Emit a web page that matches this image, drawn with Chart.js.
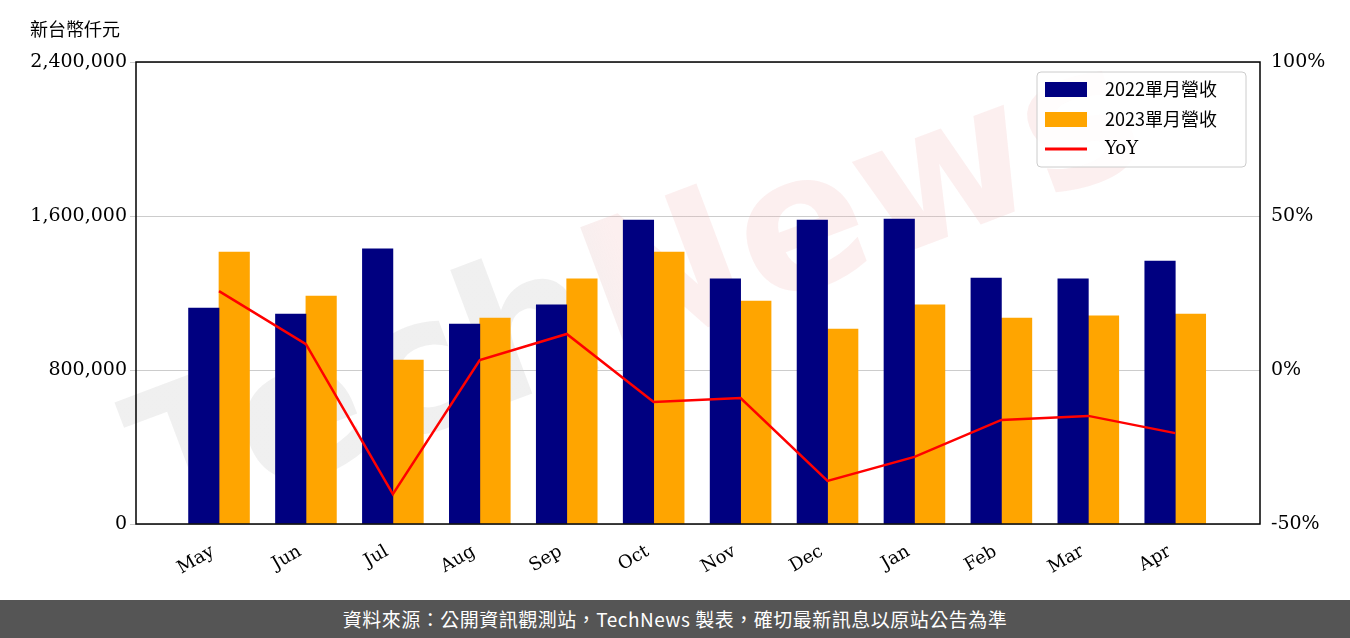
<!DOCTYPE html>
<html><head><meta charset="utf-8">
<script src="https://cdn.jsdelivr.net/npm/chart.js@4"></script>
<style>
body{margin:0;background:#fff;width:1350px;height:638px;overflow:hidden;font-family:"DejaVu Serif",serif}
#wrap{position:relative;width:1350px;height:600px}
#t{position:absolute;left:30px;top:15px;font-size:18px;font-family:"Noto Sans CJK TC";color:#000}
#f{height:38px;background:#555;color:#fff;font-family:"Noto Sans CJK TC";font-size:19px;text-align:center;line-height:38px;letter-spacing:0.5px}
</style></head><body>
<div id="wrap"><canvas id="c" width="1350" height="600"></canvas><div id="t">新台幣仟元</div></div>
<div id="f">資料來源：公開資訊觀測站，TechNews 製表，確切最新訊息以原站公告為準</div>
<script>
const months=["May","Jun","Jul","Aug","Sep","Oct","Nov","Dec","Jan","Feb","Mar","Apr"];
const rev2022=[1122000,1091000,1429000,1039000,1138000,1579000,1273000,1579000,1584000,1278000,1273000,1366000];
const rev2023=[1413000,1184000,852000,1070000,1273000,1413000,1158000,1013000,1138000,1070000,1081000,1091000];
const yoy=[25.6,8.4,-40.3,3.2,11.7,-10.4,-9.1,-36,-28.2,-16.2,-14.9,-20.5];
const leftTicks=[0,800000,1600000,2400000];
const rightTicks=[-50,0,50,100];
const F='"DejaVu Serif"';
const deco={id:'deco',
 beforeDatasetsDraw(c){const x=c.ctx;x.save();x.translate(640,300);x.rotate(-0.36);x.font='bold 190px "DejaVu Sans"';
  x.textAlign='center';x.textBaseline='middle';
  const g=x.createLinearGradient(-450,0,450,0);g.addColorStop(0,'rgba(205,205,205,0.3)');g.addColorStop(0.42,'rgba(205,205,205,0.3)');g.addColorStop(0.5,'rgba(240,175,175,0.2)');g.addColorStop(1,'rgba(240,175,175,0.2)');
  x.fillStyle=g;x.fillText('TechNews',0,0);x.restore();},
 afterDraw(c){const x=c.ctx,a=c.chartArea;x.save();x.strokeStyle='#000';x.lineWidth=1.5;x.strokeRect(a.left,a.top,a.right-a.left,a.bottom-a.top);
  const L=1037,T=72,W=209,H=95;x.fillStyle='rgba(255,255,255,0.85)';x.strokeStyle='#ccc';x.lineWidth=1;
  x.beginPath();x.roundRect(L,T,W,H,4);x.fill();x.stroke();
  x.textBaseline='middle';
  const items=[['#000080','2022單月營收','b'],['#FFA500','2023單月營收','b'],['#FF0000','YoY','l']];
  items.forEach((it,i)=>{const y=T+17+i*30;
   if(it[2]=='b'){x.fillStyle=it[0];x.fillRect(L+8,y-7,42,15);}else{x.strokeStyle=it[0];x.lineWidth=3;x.beginPath();x.moveTo(L+8,y);x.lineTo(L+50,y);x.stroke();}
   x.fillStyle='#000';x.font=(i==2?'18px '+F:'18px "Noto Sans CJK TC"');x.fillText(it[1],L+68,y);});
  x.restore();}};
const bw=0.35;
new Chart(document.getElementById('c'),{
 data:{datasets:[
  {type:'bar',label:'2022單月營收',data:rev2022.map((v,i)=>({x:i-bw/2,y:v})),backgroundColor:'#000080',yAxisID:'y',barThickness:30.5,grouped:false,order:2},
  {type:'bar',label:'2023單月營收',data:rev2023.map((v,i)=>({x:i+bw/2,y:v})),backgroundColor:'#FFA500',yAxisID:'y',barThickness:30.5,grouped:false,order:2},
  {type:'line',label:'YoY',data:yoy.map((v,i)=>({x:i,y:v})),borderColor:'#FF0000',borderWidth:2.5,pointRadius:0,yAxisID:'y1',order:1,tension:0}]},
 options:{responsive:false,animation:false,layout:{padding:{top:62,left:0,right:0,bottom:0}},
  plugins:{legend:{display:false},tooltip:{enabled:false}},
  scales:{
   x:{type:'linear',min:-0.955,max:11.975,offset:false,grid:{display:false},border:{display:false},afterFit(s){s.height=76;},
      afterBuildTicks(s){s.ticks=months.map((m,i)=>({value:i}));},
      ticks:{color:'#000',font:{family:F,size:18},maxRotation:30,minRotation:30,padding:9,labelOffset:-6,callback:v=>months[v]}},
   y:{min:0,max:2400000,afterFit(s){s.width=136;},afterBuildTicks(s){s.ticks=leftTicks.map(v=>({value:v}));},
      grid:{color:'#ccc',lineWidth:1,drawTicks:true,tickLength:6},border:{display:false},
      ticks:{color:'#000',font:{family:F,size:19},callback:v=>v.toLocaleString('en-US')}},
   y1:{position:'right',min:-50,max:100,afterFit(s){s.width=90;},afterBuildTicks(s){s.ticks=rightTicks.map(v=>({value:v}));},
      grid:{display:false},border:{display:false},
      ticks:{color:'#000',font:{family:F,size:19},callback:v=>v+'%'}}}},
 plugins:[deco]});
</script></body></html>
